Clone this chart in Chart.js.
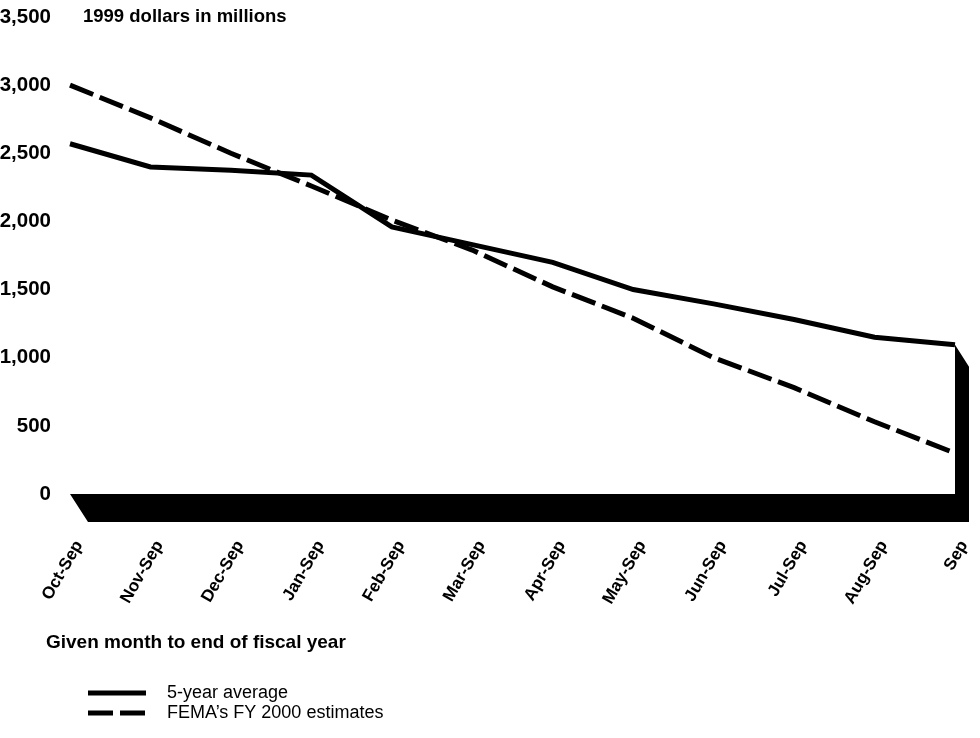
<!DOCTYPE html>
<html>
<head>
<meta charset="utf-8">
<script src="https://cdn.jsdelivr.net/npm/chart.js@4"></script>
<style>
  html, body { margin: 0; padding: 0; background: #ffffff; }
  #wrap { position: relative; width: 980px; height: 738px; overflow: hidden; }
  canvas { display: block; }
</style>
</head>
<body>
<div id="wrap"><canvas id="c" width="980" height="738"></canvas></div>
<script>
// ---- data ----
const categories = ['Oct-Sep', 'Nov-Sep', 'Dec-Sep', 'Jan-Sep', 'Feb-Sep', 'Mar-Sep',
                    'Apr-Sep', 'May-Sep', 'Jun-Sep', 'Jul-Sep', 'Aug-Sep', 'Sep'];
const fiveYearAverage = [2570, 2400, 2375, 2340, 1960, 1830, 1700, 1500, 1395, 1280, 1150, 1095];
const femaEstimates   = [3000, 2760, 2500, 2260, 2010, 1790, 1520, 1290, 1000, 780, 530, 300];
const seriesLabels = ['5-year average', 'FEMA\u2019s FY 2000 estimates'];
const yTicks = [0, 500, 1000, 1500, 2000, 2500, 3000, 3500];
const unitLabel = '1999 dollars in millions';
const xAxisTitle = 'Given month to end of fiscal year';

const FAMILY = '"Liberation Sans", Arial, sans-serif';
const REG = '18px ' + FAMILY;

// 3D floor / side wall, drawn from the scales
const depthPlugin = {
  id: 'depth',
  afterDatasetsDraw(chart) {
    const ctx = chart.ctx;
    const xs = chart.scales.x, ys = chart.scales.y;
    const x0 = xs.getPixelForValue(0);
    const x1 = xs.getPixelForValue(categories.length - 1);
    const y0 = ys.getPixelForValue(0);
    const yEnd = ys.getPixelForValue(fiveYearAverage[fiveYearAverage.length - 1]);
    ctx.save();
    ctx.fillStyle = '#000';
    ctx.beginPath();
    ctx.moveTo(x0, y0);
    ctx.lineTo(x1, y0);
    ctx.lineTo(x1, yEnd);
    ctx.lineTo(x1 + 14, yEnd + 22);
    ctx.lineTo(x1 + 14, y0 + 28);
    ctx.lineTo(x0 + 18, y0 + 28);
    ctx.closePath();
    ctx.fill();
    ctx.restore();
  },
  afterDraw(chart) {
    const ctx = chart.ctx;
    const ca = chart.chartArea;
    ctx.save();
    ctx.fillStyle = '#000';
    ctx.textBaseline = 'middle';
    ctx.textAlign = 'left';
    ctx.font = 'bold 18.5px ' + FAMILY;
    ctx.fillText(unitLabel, ca.left + 13, chart.scales.y.getPixelForValue(3500));
    ctx.font = 'bold 19px ' + FAMILY;
    ctx.fillText(xAxisTitle, 46, 643);
    // legend
    ctx.font = REG;
    const rows = [693, 713];
    chart.data.datasets.forEach((ds, i) => {
      ctx.beginPath();
      ctx.lineWidth = 5;
      ctx.strokeStyle = '#000';
      ctx.lineCap = 'butt';
      ctx.setLineDash(ds.borderDash || []);
      ctx.moveTo(88, rows[i]);
      ctx.lineTo(146, rows[i]);
      ctx.stroke();
      ctx.setLineDash([]);
      ctx.fillText(ds.label, 167, rows[i]);
    });
    ctx.restore();
  }
};

new Chart(document.getElementById('c'), {
  type: 'line',
  data: {
    labels: categories,
    datasets: [
      {
        label: seriesLabels[0],
        data: fiveYearAverage,
        borderColor: '#000',
        borderWidth: 5,
        pointRadius: 0,
        tension: 0,
        fill: false
      },
      {
        label: seriesLabels[1],
        data: femaEstimates,
        borderColor: '#000',
        borderWidth: 5,
        borderDash: [25, 7],
        pointRadius: 0,
        tension: 0,
        fill: false
      }
    ]
  },
  options: {
    responsive: false,
    animation: false,
    layout: { padding: { top: 17, right: 25, left: 0, bottom: 0 } },
    plugins: {
      legend: { display: false },
      title: { display: false },
      tooltip: { enabled: false }
    },
    scales: {
      x: {
        type: 'category',
        offset: false,
        grid: { display: false, drawTicks: false },
        border: { display: false },
        ticks: {
          autoSkip: false,
          minRotation: 60,
          maxRotation: 60,
          padding: 43,
          labelOffset: 9,
          color: '#000',
          font: { family: FAMILY, size: 17, weight: 'bold' }
        },
        afterFit(scale) {
          scale.height = 244;
          scale.paddingLeft = 0;
          scale.paddingRight = 0;
        }
      },
      y: {
        min: 0,
        max: 3500,
        grid: { display: false, drawTicks: false },
        border: { display: false },
        afterBuildTicks(scale) {
          scale.ticks = yTicks.map(v => ({ value: v }));
        },
        ticks: {
          padding: 19,
          color: '#000',
          font: { family: FAMILY, size: 20.5, weight: 'bold' },
          callback: (v) => v.toLocaleString('en-US')
        },
        afterFit(scale) {
          scale.width = 70;
          scale.paddingTop = 0;
          scale.paddingBottom = 0;
        }
      }
    }
  },
  plugins: [depthPlugin]
});
</script>
</body>
</html>
